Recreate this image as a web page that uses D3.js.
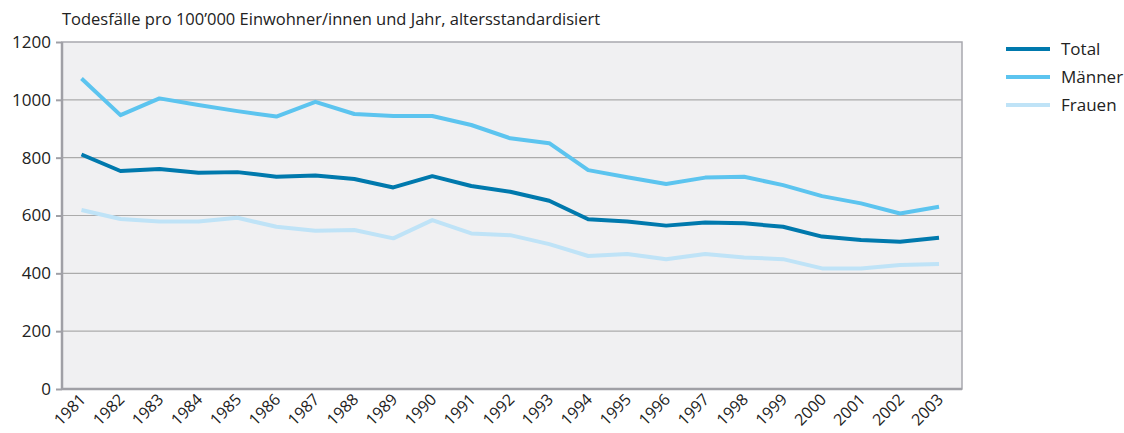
<!DOCTYPE html>
<html>
<head>
<meta charset="utf-8">
<script src="https://cdn.jsdelivr.net/npm/d3@7"></script>
<style>
  body { margin: 0; background: #fff; }
  text { font-family: "Open Sans", sans-serif; fill: #222; }
</style>
</head>
<body>
<div id="chart"></div>
<script>
// data
const years = ["1981","1982","1983","1984","1985","1986","1987","1988","1989","1990","1991","1992",
  "1993","1994","1995","1996","1997","1998","1999","2000","2001","2002","2003"];
const total = [811, 754, 761, 748, 750, 734, 738, 726, 697, 736, 702, 682, 651, 587, 579, 565, 576, 573, 561, 527, 515, 509, 523];
const maenner = [1074, 947, 1005, 982, 961, 942, 993, 951, 944, 944, 913, 867, 850, 757, 732, 709, 731, 734, 705, 667, 642, 607, 630];
const frauen = [619, 588, 579, 579, 592, 561, 547, 550, 521, 584, 538, 532, 501, 460, 467, 449, 467, 455, 449, 417, 417, 429, 432];
const yTicks = [0, 200, 400, 600, 800, 1000, 1200];
const seriesNames = ["Total", "Männer", "Frauen"];
const seriesColors = ["#0079ad", "#5cc4ef", "#bfe3f7"];

const width = 1124, height = 433;
const margin = {top: 42, left: 62, bottom: 44, right: 162};
const plotW = width - margin.left - margin.right;
const plotH = height - margin.top - margin.bottom;

const svg = d3.select("#chart").append("svg")
  .attr("width", width)
  .attr("height", height);

const x = d3.scalePoint().domain(years).range([0, plotW - 3.5]).padding(0.5);
const y = d3.scaleLinear().domain([0, 1200]).range([plotH, 0]);

const g = svg.append("g").attr("transform", `translate(${margin.left},${margin.top})`);

// background
g.append("rect").attr("width", plotW).attr("height", plotH).attr("fill", "#f0f0f2");

// grid lines
g.selectAll(".grid").data(yTicks.filter(d => d > 0 && d < 1200)).enter()
  .append("line")
  .attr("x1", 0).attr("x2", plotW)
  .attr("y1", d => y(d)).attr("y2", d => y(d))
  .attr("stroke", "#ababab").attr("stroke-width", 1.2);

// frame
g.append("rect").attr("width", plotW).attr("height", plotH)
  .attr("fill", "none").attr("stroke", "#a8a8ae").attr("stroke-width", 1.5);
g.append("line").attr("x1", 0).attr("x2", 0).attr("y1", 0).attr("y2", plotH)
  .attr("stroke", "#a0a0a6").attr("stroke-width", 2.5);
g.append("line").attr("x1", 0).attr("x2", plotW).attr("y1", plotH).attr("y2", plotH)
  .attr("stroke", "#a0a0a6").attr("stroke-width", 2.5);

// y axis
const yAxis = g.append("g").call(d3.axisLeft(y).tickValues(yTicks).tickFormat(d3.format("d")).tickSize(6).tickPadding(5));
yAxis.select(".domain").remove();
yAxis.selectAll(".tick line").attr("stroke", "#a0a0a6").attr("stroke-width", 2);
yAxis.selectAll("text").style("font-size", "17px").attr("fill", "#222");

// x axis
const xAxis = g.append("g").attr("transform", `translate(0,${plotH})`)
  .call(d3.axisBottom(x).tickSize(0).tickPadding(0));
xAxis.select(".domain").remove();
xAxis.selectAll("text")
  .style("font-size", "16px")
  .attr("fill", "#222")
  .attr("text-anchor", "end")
  .attr("dy", null)
  .attr("transform", "translate(-5,2) rotate(-45)")
  .attr("y", 0).attr("x", 0)
  .attr("dominant-baseline", "hanging");

// lines
const seriesData = [total, maenner, frauen];
const line = d3.line().x((d, i) => x(years[i])).y(d => y(d));
[2, 1, 0].forEach(k => {
  g.append("path")
    .datum(seriesData[k])
    .attr("d", line)
    .attr("fill", "none")
    .attr("stroke", seriesColors[k])
    .attr("stroke-width", 4)
    .attr("stroke-linejoin", "round");
});

// title
svg.append("text").attr("x", 62).attr("y", 25)
  .style("font-size", "16.5px")
  .text("Todesfälle pro 100’000 Einwohner/innen und Jahr, altersstandardisiert");

// legend
const legend = svg.append("g").attr("transform", "translate(1006,49)");
seriesNames.forEach((name, i) => {
  const row = legend.append("g").attr("transform", `translate(0,${i * 28})`);
  row.append("line").attr("x1", 0).attr("x2", 44).attr("y1", 0).attr("y2", 0)
    .attr("stroke", seriesColors[i]).attr("stroke-width", 4);
  row.append("text").attr("x", 55).attr("y", 0).attr("dy", "0.35em")
    .style("font-size", "17px").text(name);
});
</script>
</body>
</html>
